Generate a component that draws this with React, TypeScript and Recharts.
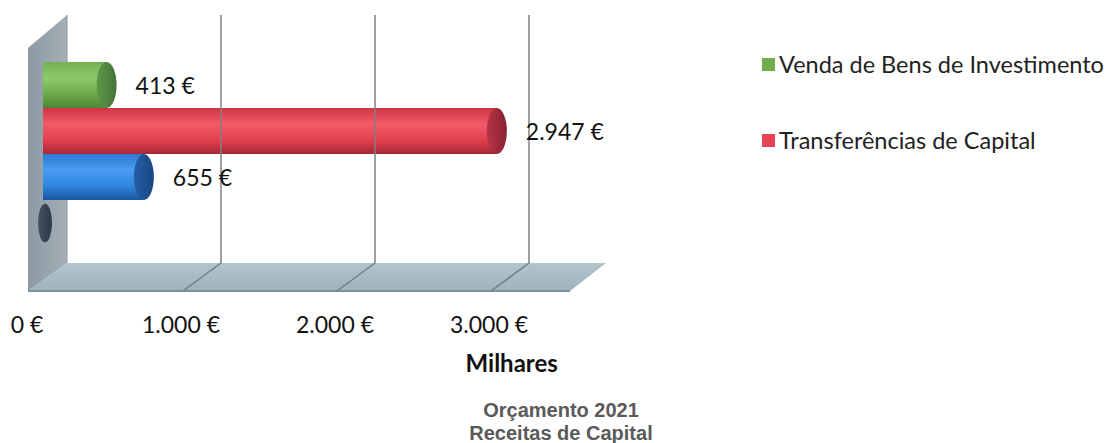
import React from 'react';
import {
  BarChart,
  Bar,
  XAxis,
  YAxis,
  CartesianGrid,
  ReferenceArea,
  ReferenceLine,
  LabelList,
} from 'recharts';

// ---- data ----
const categories = ['Receitas de Capital'];
const vendaBens = [413];
const transferencias = [2947];
const outrasReceitas = [655];
const restantes = [0];
const xTicks = [0, 1000, 2000, 3000];
const gridTicks = [1000, 2000, 3000];
const xDomain: [number, number] = [0, 3500];
const seriesNames = [
  'Venda de Bens de Investimento',
  'Transferências de Capital',
  'Outras Receitas de Capital',
  'Restantes',
];
const legendSeries = [0, 1];
const axisTitle = 'Milhares';
const titleLines = ['Orçamento 2021', 'Receitas de Capital'];

const data = categories.map((c, i) => ({
  name: c,
  venda: vendaBens[i],
  transf: transferencias[i],
  outras: outrasReceitas[i],
  rest: restantes[i],
}));

// ---- styling ----
const FONT = 'Lato, "Open Sans", sans-serif';
const DEPTH_X = -39;
const DEPTH_Y = 28;
const BAR_SHIFT_X = -24;
const BAR_SHIFT_Y = 15;
const CAP_RX = 10;

type Palette = { stops: [number, string][]; cap: string; capDark: string; legend: string };
const palettes: Palette[] = [
  {
    stops: [[0, '#74b152'], [0.35, '#8ccb68'], [0.7, '#6dab4b'], [1, '#4c8434']],
    cap: '#5f9846',
    capDark: '#44743a',
    legend: '#6fae4c',
  },
  {
    stops: [[0, '#cf3444'], [0.35, '#f45a68'], [0.7, '#e2404f'], [1, '#a82636']],
    cap: '#b93444',
    capDark: '#862232',
    legend: '#e94456',
  },
  {
    stops: [[0, '#2b78d0'], [0.35, '#4a9df0'], [0.7, '#2f84de'], [1, '#1b56a0']],
    cap: '#235fa8',
    capDark: '#1a4680',
    legend: '#2f84de',
  },
  {
    stops: [[0, '#3a4654'], [0.5, '#4a5868'], [1, '#2e3844']],
    cap: '#445262',
    capDark: '#2e3844',
    legend: '#3c4856',
  },
];

const fmt = (v: number) => String(Math.round(v)).replace(/\B(?=(\d{3})+(?!\d))/g, '.') + ' €';

const makeCylinder = (idx: number) => (props: any) => {
  const { x, y, width, height } = props;
  if (x == null || y == null) return <g />;
  const p = palettes[idx];
  const w = Math.max(0, width || 0);
  const bx = x + BAR_SHIFT_X;
  const by = y + BAR_SHIFT_Y;
  const gid = `cyl-${idx}`;
  const cid = `cap-${idx}`;
  const ry = w > 0 ? height / 2 : height * 0.42;
  const rx = w > 0 ? CAP_RX : 7;
  return (
    <g>
      <defs>
        <linearGradient id={gid} x1="0" y1="0" x2="0" y2="1">
          {p.stops.map(([o, c], i) => (
            <stop key={i} offset={o} stopColor={c} />
          ))}
        </linearGradient>
        <linearGradient id={cid} x1="0" y1="0" x2="1" y2="0">
          <stop offset={0} stopColor={p.cap} />
          <stop offset={1} stopColor={p.capDark} />
        </linearGradient>
      </defs>
      {w > 0 && <rect x={bx} y={by} width={w} height={height} fill={`url(#${gid})`} />}
      <ellipse cx={bx + w + (w > 0 ? 0 : 2)} cy={by + height / 2} rx={rx} ry={ry} fill={`url(#${cid})`} />
    </g>
  );
};

const renderValueLabel = (props: any) => {
  const { x, y, width, height, value } = props;
  if (!value) return null;
  return (
    <text
      x={x + width + BAR_SHIFT_X + CAP_RX + 19}
      y={y + height / 2 + BAR_SHIFT_Y}
      dominantBaseline="central"
      fontFamily={FONT}
      fontSize={23}
      fill="#111"
    >
      {fmt(value)}
    </text>
  );
};

const renderTick = (props: any) => {
  const { x, y, payload } = props;
  return (
    <text x={x - 40} y={y} dy={62} textAnchor="middle" fontFamily={FONT} fontSize={23} fill="#111">
      {fmt(payload.value)}
    </text>
  );
};

const renderAxisTitle = (props: any) => {
  const vb = props.viewBox || {};
  return (
    <text
      x={vb.x + vb.width * 0.825}
      y={vb.y + 109}
      textAnchor="middle"
      fontFamily={FONT}
      fontWeight={700}
      fontSize={24}
      fill="#111"
    >
      {axisTitle}
    </text>
  );
};

const renderBox = (props: any) => {
  const { x, y, width, height } = props;
  const bottom = y + height;
  const wall = [
    [x, y],
    [x, bottom],
    [x + DEPTH_X, bottom + DEPTH_Y],
    [x + DEPTH_X, y + 33],
  ];
  const floor = [
    [x, bottom],
    [x + width, bottom],
    [x + width - 36, bottom + DEPTH_Y],
    [x + DEPTH_X, bottom + DEPTH_Y],
  ];
  const pts = (a: number[][]) => a.map((p) => p.join(',')).join(' ');
  return (
    <g>
      <defs>
        <linearGradient id="wallGrad" x1="0" y1="0" x2="1" y2="0">
          <stop offset={0} stopColor="#8d99a3" />
          <stop offset={1} stopColor="#a4afb7" />
        </linearGradient>
        <linearGradient id="floorGrad" x1="0" y1="0" x2="0" y2="1">
          <stop offset={0} stopColor="#b2c4cc" />
          <stop offset={1} stopColor="#9fb3bd" />
        </linearGradient>
      </defs>
      <polygon points={pts(floor)} fill="url(#floorGrad)" />
      <line
        x1={x + DEPTH_X}
        y1={bottom + DEPTH_Y}
        x2={x + width - 36}
        y2={bottom + DEPTH_Y}
        stroke="#7f8e97"
        strokeWidth={2}
      />
      <polygon points={pts(wall)} fill="url(#wallGrad)" />
      <line x1={x} y1={y} x2={x} y2={bottom} stroke="#8a969f" strokeWidth={1} />
    </g>
  );
};

const renderGridLine = (props: any) => {
  const { x1, y1, y2 } = props;
  const top = Math.min(y1, y2);
  const bottom = Math.max(y1, y2);
  return (
    <g>
      <line x1={x1} y1={top} x2={x1} y2={bottom} stroke="#808080" strokeWidth={1.5} />
      <line x1={x1} y1={bottom} x2={x1 - 38} y2={bottom + DEPTH_Y} stroke="#6f7f88" strokeWidth={1.5} />
    </g>
  );
};

export default function App() {
  return (
    <div style={{ position: 'absolute', left: 0, top: 0, width: 1110, height: 443, background: '#fff' }}>
      <BarChart
        width={1110}
        height={443}
        data={data}
        layout="vertical"
        margin={{ top: 15, right: 504, bottom: 0, left: 67 }}
        barSize={46}
        barGap={0}
      >
        <ReferenceArea x1={xDomain[0]} x2={xDomain[1]} shape={renderBox} ifOverflow="visible" />
        {gridTicks.map((t) => (
          <ReferenceLine key={t} x={t} shape={renderGridLine} />
        ))}
        <XAxis
          type="number"
          domain={xDomain}
          ticks={xTicks}
          interval={0}
          axisLine={false}
          tickLine={false}
          height={180}
          tick={renderTick}
          label={{ value: axisTitle, content: renderAxisTitle }}
        />
        <YAxis type="category" dataKey="name" hide width={0} />
        <Bar dataKey="venda" name={seriesNames[0]} fill={palettes[0].legend} shape={makeCylinder(0)} isAnimationActive={false}>
          <LabelList dataKey="venda" content={renderValueLabel} />
        </Bar>
        <Bar dataKey="transf" name={seriesNames[1]} fill={palettes[1].legend} shape={makeCylinder(1)} isAnimationActive={false}>
          <LabelList dataKey="transf" content={renderValueLabel} />
        </Bar>
        <Bar dataKey="outras" name={seriesNames[2]} fill={palettes[2].legend} shape={makeCylinder(2)} isAnimationActive={false}>
          <LabelList dataKey="outras" content={renderValueLabel} />
        </Bar>
        <Bar dataKey="rest" name={seriesNames[3]} fill={palettes[3].legend} shape={makeCylinder(3)} isAnimationActive={false} />
      </BarChart>
      <div
        style={{
          position: 'absolute',
          left: 762,
          top: 49,
          fontFamily: FONT,
          fontSize: 23.5,
          color: '#222',
        }}
      >
        {legendSeries.map((si, i) => (
          <div
            key={si}
            style={{ display: 'flex', alignItems: 'center', height: 30, marginBottom: i < legendSeries.length - 1 ? 46 : 0 }}
          >
            <span style={{ width: 13, height: 13, background: palettes[si].legend, display: 'inline-block', marginRight: 4 }} />
            <span style={{ whiteSpace: 'nowrap' }}>{seriesNames[si]}</span>
          </div>
        ))}
      </div>
      <svg width={1110} height={443} style={{ position: 'absolute', left: 0, top: 0, pointerEvents: 'none' }}>
        <text x={561} y={417} textAnchor="middle" fontFamily='"Liberation Sans", Arial, sans-serif' fontWeight={700} fontSize={20} fill="#5a5a5a">
          {titleLines[0]}
        </text>
        <text x={561} y={440} textAnchor="middle" fontFamily='"Liberation Sans", Arial, sans-serif' fontWeight={700} fontSize={20} fill="#5a5a5a">
          {titleLines[1]}
        </text>
      </svg>
    </div>
  );
}
